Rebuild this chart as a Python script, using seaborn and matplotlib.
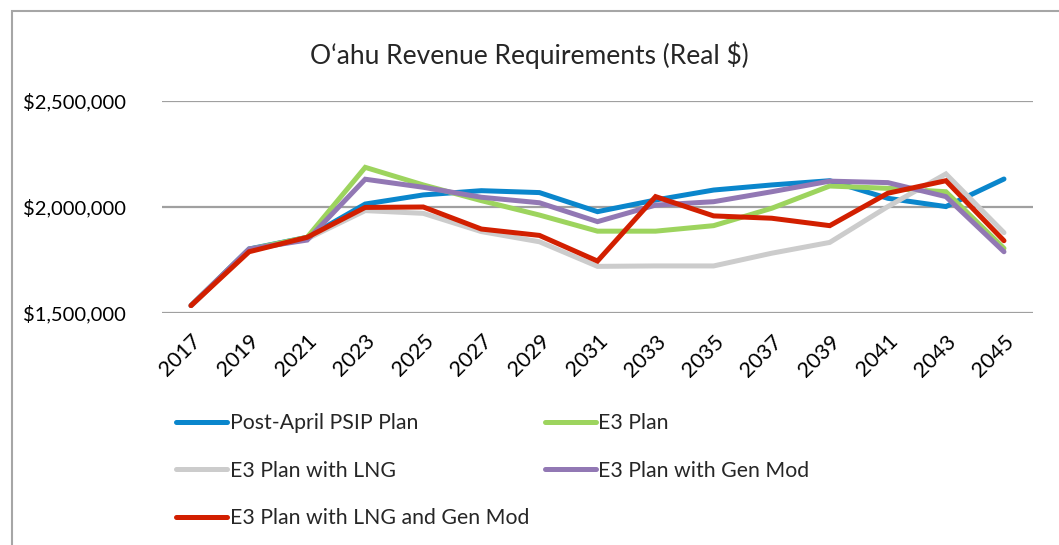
import numpy as np
import pandas as pd
import matplotlib
matplotlib.use("Agg")
import matplotlib.pyplot as plt
import seaborn as sns
from matplotlib.patches import Rectangle
from matplotlib.ticker import FuncFormatter

years = [str(y) for y in range(2017, 2046, 2)]

post_april = [1535000, 1802000, 1857000, 2014000, 2057000, 2077000, 2068000, 1978000,
              2033000, 2080000, 2104000, 2124000, 2041000, 2002000, 2132000]
e3_plan = [1535000, 1800000, 1857000, 2187000, 2104000, 2030000, 1962000, 1886000,
           1886000, 1912000, 1994000, 2099000, 2088000, 2072000, 1805000]
e3_lng = [1535000, 1795000, 1850000, 1983000, 1970000, 1884000, 1836000, 1720000,
          1722000, 1722000, 1782000, 1833000, 2002000, 2156000, 1879000]
e3_genmod = [1535000, 1802000, 1844000, 2131000, 2093000, 2046000, 2020000, 1931000,
             2009000, 2025000, 2072000, 2122000, 2115000, 2049000, 1789000]
e3_lng_genmod = [1535000, 1789000, 1857000, 1998000, 2000000, 1896000, 1866000, 1745000,
                 2049000, 1958000, 1947000, 1912000, 2065000, 2124000, 1841000]

series_names = ["Post-April PSIP Plan", "E3 Plan", "E3 Plan with LNG",
                "E3 Plan with Gen Mod", "E3 Plan with LNG and Gen Mod"]
series_values = [post_april, e3_plan, e3_lng, e3_genmod, e3_lng_genmod]
colors = ["#0a86cc", "#9dd45e", "#cccccc", "#9278b4", "#d21f00"]

rows = []
for name, vals in zip(series_names, series_values):
    for yr, v in zip(years, vals):
        rows.append({"year": yr, "value": v, "series": name})
df = pd.DataFrame(rows)

sns.set_theme(style="white")
plt.rcParams["font.family"] = ["Lato", "DejaVu Sans"]

fig = plt.figure(figsize=(10.59, 5.45), dpi=100)
ax = fig.add_axes([162 / 1059, 1 - 313 / 545, (1033 - 162) / 1059, 212 / 545])

sns.lineplot(data=df, x="year", y="value", hue="series", hue_order=series_names,
             palette=colors, linewidth=3.6, sort=False, ax=ax, legend=False)
for ln in ax.get_lines():
    ln.set_solid_capstyle("round")
    ln.set_solid_joinstyle("miter")

ax.set_xlim(-0.5, len(years) - 0.5)
ax.set_ylim(1500000, 2500000)
ax.set_yticks([1500000, 2000000, 2500000])
ax.yaxis.set_major_formatter(FuncFormatter(lambda v, p: "${:,.0f}".format(v)))
ax.grid(axis="y", color="#a0a0a0", linewidth=1.6)
ax.grid(axis="x", visible=False)
for s in ["top", "right", "left", "bottom"]:
    ax.spines[s].set_visible(False)
ax.set_xlabel("")
ax.set_ylabel("")
ax.tick_params(axis="y", labelsize=14.5, pad=26, length=0, colors="black")
ax.tick_params(axis="x", labelsize=15.5, pad=13, length=0, colors="black")
plt.setp(ax.get_xticklabels(), rotation=45, ha="right", rotation_mode="anchor")

fig.text(0.5, 1 - 55 / 545, "O\u2018ahu Revenue Requirements (Real $)", ha="center",
         va="center", fontsize=19)

# legend, filled column-wise
handles = [plt.Line2D([], [], color=c, linewidth=3.6, solid_capstyle="round") for c in colors]
order = [0, 2, 4, 1, 3]
fig.legend([handles[i] for i in order], [series_names[i] for i in order],
           loc="upper left", bbox_to_anchor=(176 / 1059, 1 - 413 / 545), ncol=2,
           frameon=False, fontsize=15.3, handlelength=2.4, handletextpad=0.12,
           columnspacing=0.75, labelspacing=1.3, borderpad=0, borderaxespad=0)

fig.patches.append(Rectangle((12 / 1059, -0.1), 1.2, 1 - 11 / 545 + 0.1,
                             transform=fig.transFigure, fill=False,
                             edgecolor="#a6a6a6", linewidth=1.5))

fig.savefig("out.png", dpi=100)
